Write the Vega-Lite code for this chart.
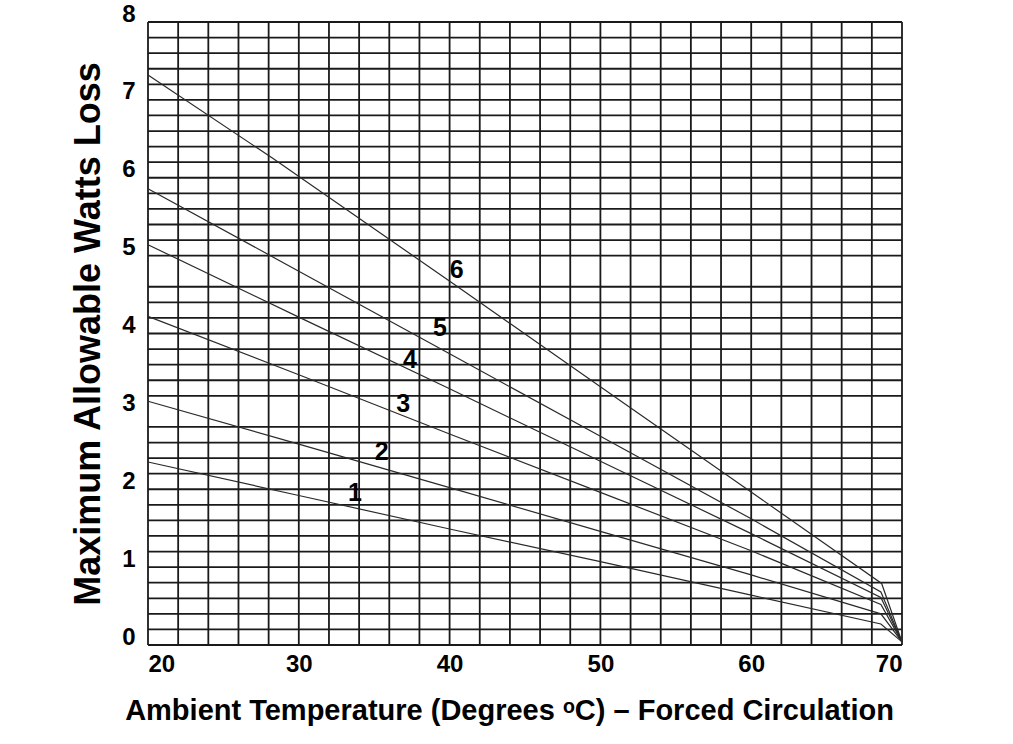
{
  "$schema": "https://vega.github.io/schema/vega-lite/v6.json",
  "width": 754,
  "height": 623,
  "autosize": {"type": "none"},
  "padding": {"left": 148, "top": 22, "right": 111, "bottom": 99},
  "background": "white",
  "config": {"view": {"stroke": null}},
  "datasets": {
    "curves": [
      {"curve": "6", "temp": 20, "watts": 7.32},
      {"curve": "6", "temp": 28.27, "watts": 6.25},
      {"curve": "6", "temp": 34.28, "watts": 5.44},
      {"curve": "6", "temp": 40.25, "watts": 4.64},
      {"curve": "6", "temp": 46.21, "watts": 3.83},
      {"curve": "6", "temp": 52.18, "watts": 3.02},
      {"curve": "6", "temp": 58.26, "watts": 2.2},
      {"curve": "6", "temp": 64.23, "watts": 1.39},
      {"curve": "6", "temp": 68.65, "watts": 0.79},
      {"curve": "6", "temp": 70, "watts": 0.04},
      {"curve": "5", "temp": 20, "watts": 5.86},
      {"curve": "5", "temp": 30, "watts": 4.8},
      {"curve": "5", "temp": 40, "watts": 3.74},
      {"curve": "5", "temp": 50, "watts": 2.68},
      {"curve": "5", "temp": 60, "watts": 1.62},
      {"curve": "5", "temp": 68.6, "watts": 0.68},
      {"curve": "5", "temp": 70, "watts": 0.04},
      {"curve": "4", "temp": 20, "watts": 5.14},
      {"curve": "4", "temp": 30, "watts": 4.21},
      {"curve": "4", "temp": 40, "watts": 3.29},
      {"curve": "4", "temp": 50, "watts": 2.36},
      {"curve": "4", "temp": 60, "watts": 1.43},
      {"curve": "4", "temp": 68.6, "watts": 0.61},
      {"curve": "4", "temp": 70, "watts": 0.04},
      {"curve": "3", "temp": 20, "watts": 4.22},
      {"curve": "3", "temp": 30, "watts": 3.47},
      {"curve": "3", "temp": 40, "watts": 2.71},
      {"curve": "3", "temp": 50, "watts": 1.96},
      {"curve": "3", "temp": 60, "watts": 1.21},
      {"curve": "3", "temp": 68.6, "watts": 0.52},
      {"curve": "3", "temp": 70, "watts": 0.04},
      {"curve": "2", "temp": 20, "watts": 3.13},
      {"curve": "2", "temp": 30, "watts": 2.58},
      {"curve": "2", "temp": 40, "watts": 2.02},
      {"curve": "2", "temp": 50, "watts": 1.46},
      {"curve": "2", "temp": 60, "watts": 0.9},
      {"curve": "2", "temp": 68.6, "watts": 0.4},
      {"curve": "2", "temp": 70, "watts": 0.04},
      {"curve": "1", "temp": 20, "watts": 2.35},
      {"curve": "1", "temp": 30, "watts": 1.92},
      {"curve": "1", "temp": 40, "watts": 1.49},
      {"curve": "1", "temp": 50, "watts": 1.07},
      {"curve": "1", "temp": 60, "watts": 0.64},
      {"curve": "1", "temp": 68.6, "watts": 0.27},
      {"curve": "1", "temp": 70, "watts": 0.04}
    ],
    "labels": [
      {"curve": "6", "temp": 40.47, "watts": 4.82},
      {"curve": "5", "temp": 39.36, "watts": 4.07},
      {"curve": "4", "temp": 37.37, "watts": 3.66},
      {"curve": "3", "temp": 36.93, "watts": 3.1},
      {"curve": "2", "temp": 35.5, "watts": 2.48},
      {"curve": "1", "temp": 33.73, "watts": 1.95}
    ],
    "vgrid": [
      {"temp": 20}, {"temp": 22}, {"temp": 24}, {"temp": 26}, {"temp": 28},
      {"temp": 30}, {"temp": 32}, {"temp": 34}, {"temp": 36}, {"temp": 38},
      {"temp": 40}, {"temp": 42}, {"temp": 44}, {"temp": 46}, {"temp": 48},
      {"temp": 50}, {"temp": 52}, {"temp": 54}, {"temp": 56}, {"temp": 58},
      {"temp": 60}, {"temp": 62}, {"temp": 64}, {"temp": 66}, {"temp": 68},
      {"temp": 70}
    ],
    "hgrid": [
      {"watts": 0}, {"watts": 0.2}, {"watts": 0.4}, {"watts": 0.6}, {"watts": 0.8},
      {"watts": 1}, {"watts": 1.2}, {"watts": 1.4}, {"watts": 1.6}, {"watts": 1.8},
      {"watts": 2}, {"watts": 2.2}, {"watts": 2.4}, {"watts": 2.6}, {"watts": 2.8},
      {"watts": 3.2}, {"watts": 3.4}, {"watts": 3.6}, {"watts": 3.8},
      {"watts": 4}, {"watts": 4.2}, {"watts": 4.4}, {"watts": 4.6},
      {"watts": 5}, {"watts": 5.2}, {"watts": 5.4}, {"watts": 5.6}, {"watts": 5.8},
      {"watts": 6}, {"watts": 6.2}, {"watts": 6.4}, {"watts": 6.6}, {"watts": 6.8},
      {"watts": 7}, {"watts": 7.2}, {"watts": 7.4}, {"watts": 7.6}, {"watts": 7.8},
      {"watts": 8}
    ]
  },
  "layer": [
    {
      "data": {"name": "vgrid"},
      "mark": {"type": "rule", "color": "#1a1a1a", "strokeWidth": 1.8},
      "encoding": {
        "x": {
          "field": "temp", "type": "quantitative",
          "scale": {"domain": [20, 70], "nice": false, "zero": false},
          "axis": {
            "values": [20, 30, 40, 50, 60, 70],
            "format": "d",
            "title": "Ambient Temperature (Degrees ᵒC) – Forced Circulation",
            "grid": false, "domain": false, "ticks": false,
            "labelFlush": true,
            "labelFont": "Liberation Sans", "labelFontWeight": "bold", "labelFontSize": 24, "labelColor": "black",
            "labelPadding": 7,
            "titleFont": "Liberation Sans", "titleFontWeight": "bold", "titleFontSize": 29, "titleColor": "black",
            "titlePadding": 20, "titleX": 361
          }
        }
      }
    },
    {
      "data": {"name": "hgrid"},
      "mark": {"type": "rule", "color": "#1a1a1a", "strokeWidth": 1.8},
      "encoding": {
        "y": {
          "field": "watts", "type": "quantitative",
          "scale": {"domain": [0, 8], "nice": false},
          "axis": {
            "values": [0, 1, 2, 3, 4, 5, 6, 7, 8],
            "format": "d",
            "title": "Maximum Allowable Watts Loss",
            "grid": false, "domain": false, "ticks": false,
            "labelFont": "Liberation Sans", "labelFontWeight": "bold", "labelFontSize": 24, "labelColor": "black",
            "labelPadding": 13, "labelOffset": -8,
            "titleFont": "Liberation Sans", "titleFontWeight": "bold", "titleFontSize": 36, "titleColor": "black",
            "titlePadding": 14
          }
        }
      }
    },
    {
      "data": {"name": "curves"},
      "mark": {"type": "line", "color": "#2a2a2a", "strokeWidth": 1.2, "clip": false},
      "encoding": {
        "x": {"field": "temp", "type": "quantitative"},
        "y": {"field": "watts", "type": "quantitative"},
        "detail": {"field": "curve", "type": "nominal"}
      }
    },
    {
      "data": {"name": "labels"},
      "mark": {"type": "text", "font": "Liberation Sans", "fontWeight": "bold", "fontSize": 25, "color": "black", "align": "center", "baseline": "middle"},
      "encoding": {
        "x": {"field": "temp", "type": "quantitative"},
        "y": {"field": "watts", "type": "quantitative"},
        "text": {"field": "curve", "type": "nominal"}
      }
    }
  ]
}
